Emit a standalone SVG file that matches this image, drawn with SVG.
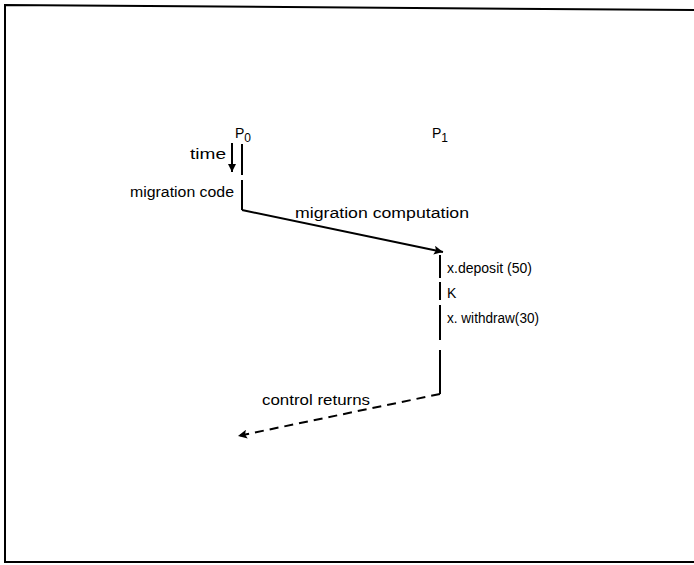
<svg xmlns="http://www.w3.org/2000/svg" width="694" height="565" viewBox="0 0 694 565">
<style>
text{font-family:"Liberation Sans",Arial,sans-serif;font-size:14px;fill:#000}
.ln{stroke:#000;stroke-width:2;fill:none}
.dash{stroke:#000;stroke-width:2;fill:none;stroke-dasharray:9,6}
</style>
<defs>
<marker id="ah" viewBox="0 0 10 10" refX="10" refY="5" markerWidth="14" markerHeight="9" markerUnits="userSpaceOnUse" orient="auto">
<path d="M0,0 L10,5 L0,10 L2,5 z" fill="#000"/>
</marker>
<marker id="ahs" viewBox="0 0 10 10" refX="10" refY="5" markerWidth="12" markerHeight="8" markerUnits="userSpaceOnUse" orient="auto">
<path d="M0,0 L10,5 L0,10 z" fill="#000"/>
</marker>
</defs>
<rect width="694" height="565" fill="#fff"/>
<g id="frame">
<path class="ln" d="M694,10 L5,5 L5,562 L694,562"/>
</g>
<g id="P0">
<text x="235" y="138" font-size="15">P<tspan font-size="12" dy="4">0</tspan></text>
<line class="ln" x1="242" y1="144" x2="242" y2="175"/>
<line class="ln" x1="242" y1="180" x2="242" y2="210"/>
</g>
<g id="P1">
<text x="432" y="138" font-size="15">P<tspan font-size="12" dy="4">1</tspan></text>
<line class="ln" x1="440" y1="255" x2="440" y2="278"/>
<line class="ln" x1="440" y1="282" x2="440" y2="300"/>
<line class="ln" x1="440" y1="305" x2="440" y2="340"/>
<line class="ln" x1="440" y1="350" x2="440" y2="394"/>
</g>
<g id="time">
<text x="190" y="159" textLength="36" lengthAdjust="spacingAndGlyphs">time</text>
<line class="ln" x1="232" y1="143" x2="232" y2="172" marker-end="url(#ahs)"/>
</g>
<g id="labels">
<text x="130" y="197" textLength="104" lengthAdjust="spacingAndGlyphs">migration code</text>
<text x="295" y="218" textLength="174" lengthAdjust="spacingAndGlyphs">migration computation</text>
<text x="447" y="273" textLength="85" lengthAdjust="spacingAndGlyphs">x.deposit (50)</text>
<text x="447" y="298">K</text>
<text x="447" y="323" textLength="92" lengthAdjust="spacingAndGlyphs">x. withdraw(30)</text>
<text x="262" y="405" textLength="108" lengthAdjust="spacingAndGlyphs">control returns</text>
</g>
<g id="connectors">
<path class="ln" d="M242,210 L443,252" marker-end="url(#ah)"/>
<path class="dash" d="M440,394 L238,436" marker-end="url(#ah)"/>
</g>
</svg>
